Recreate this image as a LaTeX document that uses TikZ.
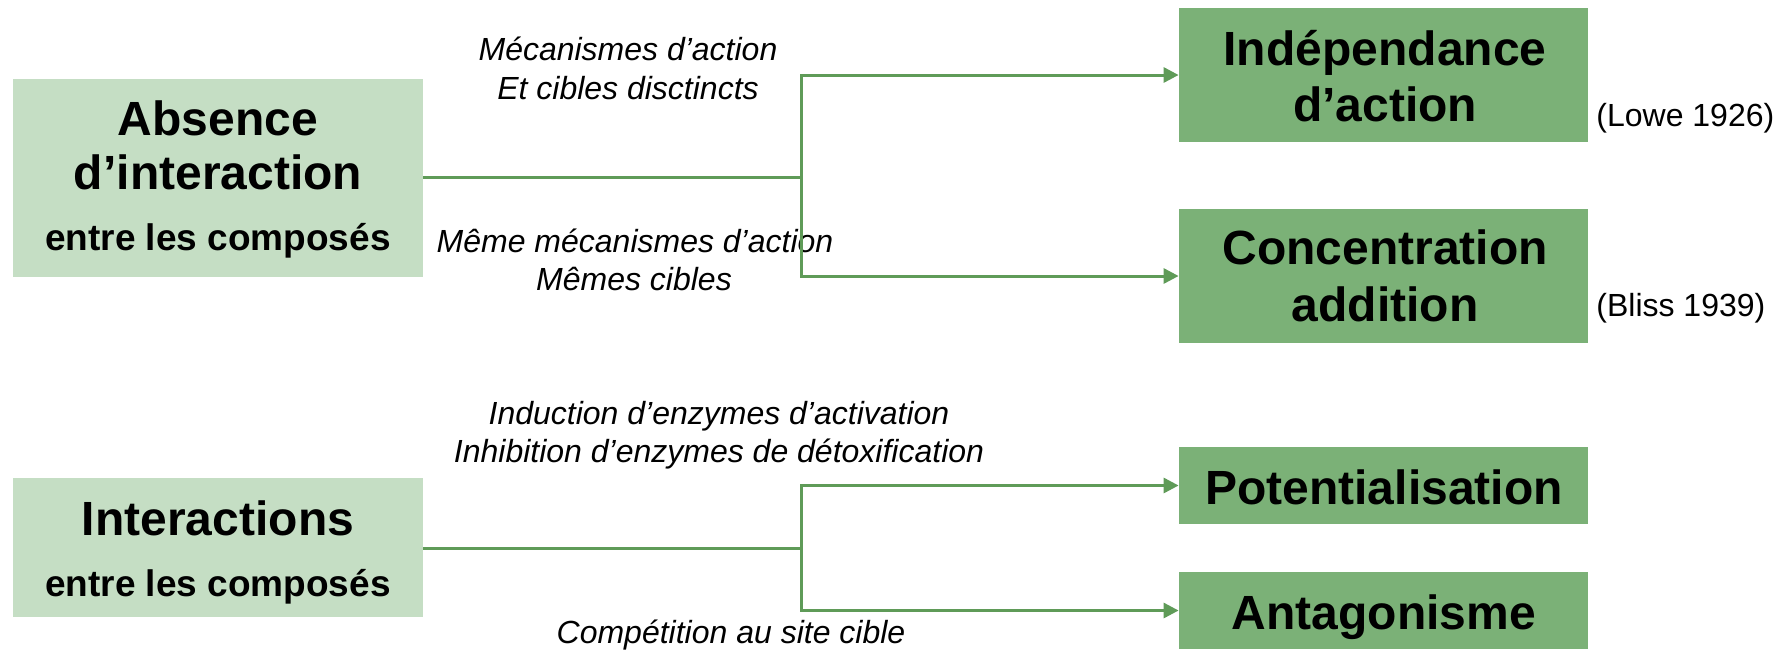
\documentclass[tikz,border=0pt]{standalone}
\usepackage{fontspec}
\setmainfont{Liberation Sans}
\usetikzlibrary{arrows.meta}
\definecolor{lightbox}{HTML}{C5DEC4}
\definecolor{darkbox}{HTML}{7BB177}
\definecolor{linegreen}{HTML}{5F9B58}
\begin{document}
\begin{tikzpicture}[x=0.5pt,y=-0.5pt,
  srcbox/.style={fill=lightbox, draw=none, minimum width=205pt, inner sep=0pt},
  tgtbox/.style={fill=darkbox, draw=none, minimum width=204.5pt, inner sep=0pt},
  ttl/.style={font=\bfseries\fontsize{24}{28}\selectfont, anchor=base, inner sep=0pt},
  sub/.style={font=\bfseries\fontsize{18.5}{22}\selectfont, anchor=base, inner sep=0pt},
  lbl/.style={font=\itshape\fontsize{16}{19}\selectfont, anchor=base, inner sep=0pt},
  refcite/.style={font=\fontsize{16}{19}\selectfont, anchor=base west, inner sep=0pt},
  conn/.style={draw=linegreen, line width=1.5pt},
  arr/.style={conn, -{Triangle[length=7.5pt,width=7.5pt]}}]
\fill[white] (0,0) rectangle (1783,649);
\useasboundingbox (0,0) rectangle (1783,649);

% source boxes
\node[srcbox, minimum height=99pt] (A) at (218,178) {};
\node[ttl] (A1) at (218,135) {Absence};
\node[ttl] (A2) at (218,189) {d’interaction};
\node[sub] (A3) at (218,250) {entre les composés};

\node[srcbox, minimum height=69.5pt] (I) at (218,547.5) {};
\node[ttl] (I1) at (218,535) {Interactions};
\node[sub] (I2) at (218,596) {entre les composés};

% target boxes
\node[tgtbox, minimum height=67pt] (B1) at (1383.5,75) {};
\node[ttl] (B1a) at (1385,65) {Indépendance};
\node[ttl] (B1b) at (1385,121) {d’action};

\node[tgtbox, minimum height=67pt] (B2) at (1383.5,276) {};
\node[ttl] (B2a) at (1385,264) {Concentration};
\node[ttl] (B2b) at (1385,321) {addition};

\node[tgtbox, minimum height=38.5pt] (P) at (1383.5,485.5) {};
\node[ttl] (P1) at (1384,504) {Potentialisation};

\node[tgtbox, minimum height=38.5pt] (Q) at (1383.5,610.5) {};
\node[ttl] (Q1) at (1384,629) {Antagonisme};

% citations
\node[refcite] (C1) at (1596,126) {(Lowe 1926)};
\node[refcite] (C2) at (1596,316) {(Bliss 1939)};

% labels
\node[lbl] (L1a) at (628,60) {Mécanismes d’action};
\node[lbl] (L1b) at (628,99) {Et cibles disctincts};
\node[lbl] (L2a) at (635,252) {Même mécanismes d’action};
\node[lbl] (L2b) at (634,290) {Mêmes cibles};
\node[lbl] (L3a) at (719,424) {Induction d’enzymes d’activation};
\node[lbl] (L3b) at (719,462) {Inhibition d’enzymes de détoxification};
\node[lbl] (L4) at (731,643) {Compétition au site cible};

% connectors
\coordinate (J1) at (801,177);
\coordinate (J2) at (801,548);
\draw[conn] (A.east |- J1) -- (J1);
\draw[arr] (J1) |- (B1.west);
\draw[arr] (J1) |- (B2.west);
\draw[conn] (I.east |- J2) -- (J2);
\draw[arr] (J2) |- (P.west);
\draw[arr] (J2) |- (Q.west);
\end{tikzpicture}
\end{document}
